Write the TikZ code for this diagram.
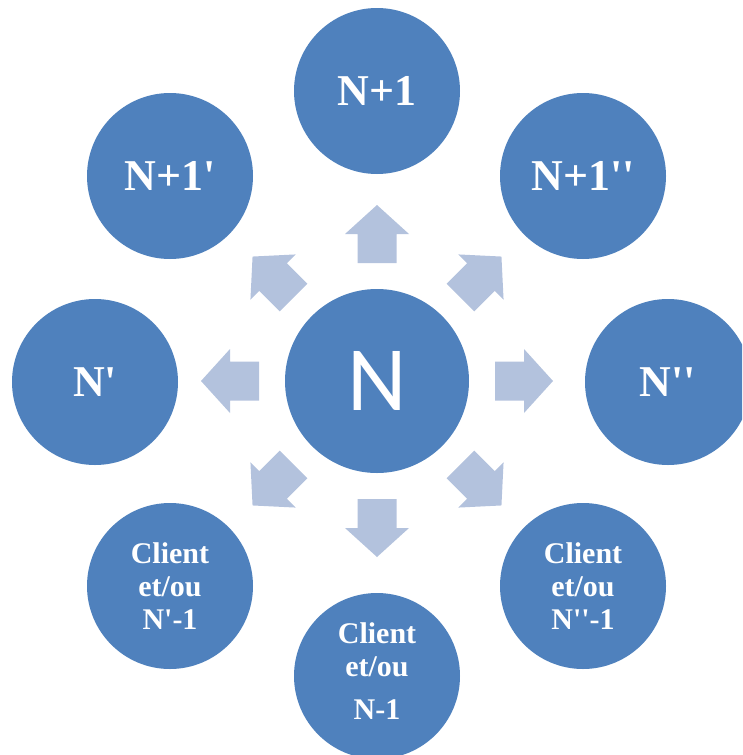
\documentclass[tikz,border=0pt]{standalone}
\usepackage{fontspec}
\setmainfont{Liberation Serif}[Ligatures=TeXOff]
\newfontfamily\calfont{Carlito}
\definecolor{dkblue}{HTML}{4F81BD}
\definecolor{ltblue}{HTML}{B3C2DD}
\begin{document}
\begin{tikzpicture}[x=1pt,y=-1pt,
  bubble/.style={circle,fill=dkblue,draw=none,minimum size=166pt,inner sep=0pt,text=white,
    font=\bfseries\fontsize{44}{48}\selectfont},
  clientbubble/.style={bubble,font=\bfseries\fontsize{30}{33}\selectfont,align=center},
  blockarrow/.style={fill=ltblue,draw=none}]
\useasboundingbox (0,0) rectangle (742,755);
\clip (0,0) rectangle (742,755);
% centre
\node[circle,fill=dkblue,minimum size=184pt,inner sep=0pt,text=white,
  font=\calfont\fontsize{92}{92}\selectfont] (n) at (377,381) {N};
% outer nodes
\node[bubble] (np1) at (377,91) {N+1};
\node[bubble] (np1a) at (170,176) {N+1'};
\node[bubble] (np1b) at (583,176) {N+1''};
\node[bubble] (na) at (95,382) {N'};
\node[bubble] (nb) at (668,382) {N''};
\node[clientbubble] (ca) at (170,586) {Client\\et/ou\\N'-1};
\node[clientbubble] (cb) at (583,586) {Client\\et/ou\\N''-1};
\node[circle,fill=dkblue,minimum size=166pt,inner sep=0pt] (cn) at (377,676) {};
\node[text=white,font=\bfseries\fontsize{30}{33}\selectfont,align=center] (cnt) at (377,671) {Client\\et/ou\\[10pt]N-1};
% block arrows
\foreach \ang in {0,45,90,135,180,225,270,315}{
  \begin{scope}[shift={(n.center)},rotate=\ang]
    \fill[blockarrow] (118,-19.5) -- (147,-19.5) -- (147,-32) -- (176,0)
      -- (147,32) -- (147,19.5) -- (118,19.5) -- cycle;
  \end{scope}
}
\end{tikzpicture}
\end{document}
